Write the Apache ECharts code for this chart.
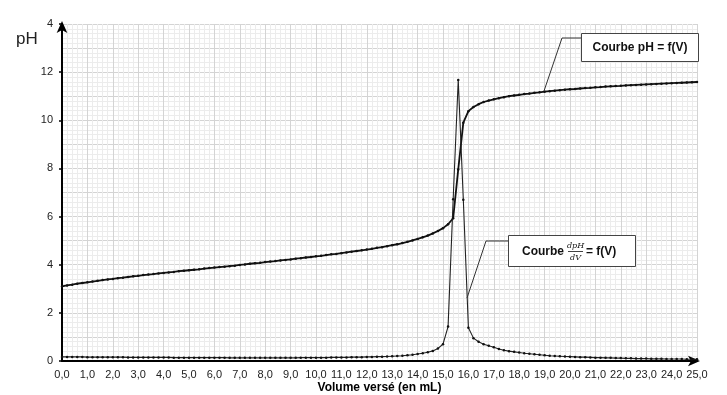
<!DOCTYPE html>
<html><head><meta charset="utf-8">
<script src="https://cdn.jsdelivr.net/npm/echarts@6/dist/echarts.min.js"></script>
<style>html,body{margin:0;padding:0;background:#fff;overflow:hidden}#c{position:absolute;left:0;top:0;width:727px;height:395px}</style>
</head><body><div id="c"></div>
<script>
const volumes = [0,0.2,0.4,0.6,0.8,1,1.2,1.4,1.6,1.8,2,2.2,2.4,2.6,2.8,3,3.2,3.4,3.6,3.8,4,4.2,4.4,4.6,4.8,5,5.2,5.4,5.6,5.8,6,6.2,6.4,6.6,6.8,7,7.2,7.4,7.6,7.8,8,8.2,8.4,8.6,8.8,9,9.2,9.4,9.6,9.8,10,10.2,10.4,10.6,10.8,11,11.2,11.4,11.6,11.8,12,12.2,12.4,12.6,12.8,13,13.2,13.4,13.6,13.8,14,14.2,14.4,14.6,14.8,15,15.2,15.4,15.6,15.8,16,16.2,16.4,16.6,16.8,17,17.2,17.4,17.6,17.8,18,18.2,18.4,18.6,18.8,19,19.2,19.4,19.6,19.8,20,20.2,20.4,20.6,20.8,21,21.2,21.4,21.6,21.8,22,22.2,22.4,22.6,22.8,23,23.2,23.4,23.6,23.8,24,24.2,24.4,24.6,24.8,25];
const pH = [3.10,3.14,3.17,3.21,3.24,3.27,3.30,3.33,3.36,3.39,3.41,
3.44,3.46,3.49,3.52,3.54,3.57,3.59,3.61,3.64,3.66,
3.68,3.70,3.73,3.75,3.77,3.79,3.81,3.84,3.86,3.88,
3.90,3.92,3.94,3.96,3.99,4.01,4.04,4.06,4.08,4.11,
4.13,4.15,4.18,4.20,4.22,4.25,4.27,4.30,4.32,4.35,
4.37,4.40,4.43,4.45,4.48,4.51,4.54,4.57,4.60,4.63,
4.66,4.70,4.73,4.77,4.81,4.85,4.90,4.95,5.01,5.07,
5.14,5.21,5.30,5.40,5.52,5.68,5.93,7.96,9.90,10.38,
10.55,10.67,10.76,10.82,10.87,10.92,10.96,11.00,11.03,11.06,
11.09,11.11,11.14,11.16,11.19,11.21,11.23,11.25,11.27,11.29,
11.30,11.32,11.34,11.35,11.37,11.38,11.40,11.41,11.42,11.43,
11.45,11.46,11.47,11.48,11.49,11.50,11.51,11.52,11.53,11.54,
11.55,11.56,11.57,11.58,11.59];
const dpHdV = [0.17,0.17,0.17,0.17,0.17,0.16,0.16,0.16,0.16,0.16,0.16,
0.16,0.16,0.15,0.15,0.15,0.15,0.15,0.15,0.15,0.15,
0.15,0.14,0.14,0.14,0.14,0.14,0.14,0.14,0.14,0.14,
0.14,0.14,0.13,0.13,0.13,0.13,0.13,0.13,0.13,0.13,
0.13,0.13,0.13,0.13,0.13,0.13,0.14,0.14,0.14,0.14,
0.14,0.14,0.15,0.15,0.15,0.15,0.16,0.16,0.16,0.17,
0.17,0.18,0.18,0.19,0.20,0.21,0.22,0.24,0.26,0.29,
0.32,0.36,0.42,0.52,0.70,1.43,6.72,11.67,6.70,1.38,
0.95,0.80,0.70,0.63,0.57,0.50,0.45,0.41,0.38,0.35,
0.32,0.30,0.28,0.26,0.24,0.22,0.21,0.20,0.19,0.18,
0.17,0.16,0.16,0.15,0.14,0.14,0.13,0.13,0.12,0.12,
0.11,0.11,0.10,0.10,0.10,0.09,0.09,0.09,0.08,0.08,
0.08,0.08,0.07,0.07,0.07];
const xTickLabels = ['0,0','1,0','2,0','3,0','4,0','5,0','6,0','7,0','8,0','9,0','10,0','11,0','12,0','13,0','14,0','15,0','16,0','17,0','18,0','19,0','20,0','21,0','22,0','23,0','24,0','25,0'];
const yTickLabels = {0:'0',2:'2',4:'4',6:'6',8:'8',10:'10',12:'12',14:'4'};
const xTitle = 'Volume versé (en mL)';
const yTitle = 'pH';

const chart = echarts.init(document.getElementById('c'), null, {renderer:'canvas',width:727,height:395});
const font = 'Liberation Sans, Arial, sans-serif';
const pHData = volumes.map((v,i)=>[v,pH[i]]);
const dData = volumes.map((v,i)=>[v,dpHdV[i]]);
chart.setOption({
  animation:false,
  backgroundColor:'#fff',
  grid:{left:62,right:30,top:24,bottom:34,containLabel:false,outerBoundsMode:'none'},
  xAxis:{type:'value',min:0,max:25,interval:1,
    name:xTitle,nameLocation:'middle',nameGap:21,nameMoveOverlap:false,
    nameTextStyle:{fontFamily:font,fontWeight:'bold',fontSize:12,color:'#000'},
    axisLine:{show:true,onZero:false,symbol:['none','arrow'],symbolSize:[8,12],symbolOffset:[0,3],lineStyle:{color:'#000',width:2}},
    axisTick:{show:false},
    axisLabel:{fontFamily:font,fontSize:11,color:'#222',margin:8,formatter:v=>xTickLabels[Math.round(v)]},
    splitLine:{show:true,lineStyle:{color:'#d4d4d4',width:1}},
    minorTick:{show:false,splitNumber:5},
    minorSplitLine:{show:true,lineStyle:{color:'#ececec',width:1}}
  },
  yAxis:[{type:'value',min:0,max:14,interval:1,
    axisLine:{show:true,symbol:['none','arrow'],symbolSize:[8,12],symbolOffset:[0,3],lineStyle:{color:'#000',width:2}},
    axisTick:{show:false},
    axisLabel:{fontFamily:font,fontSize:11,color:'#222',margin:9,formatter:v=>yTickLabels[v]!==undefined?yTickLabels[v]:''},
    splitLine:{show:true,lineStyle:{color:'#d4d4d4',width:1}},
    minorTick:{show:false,splitNumber:5},
    minorSplitLine:{show:true,lineStyle:{color:'#ececec',width:1}}
  },{type:'value',min:0,max:14,interval:2,position:'left',
    axisLine:{show:false},axisLabel:{show:false},splitLine:{show:false},
    axisTick:{show:true,length:3,inside:false,lineStyle:{color:'#000',width:1.5}}
  }],
  series:[
    {type:'line',data:pHData,symbol:'circle',symbolSize:2.5,showSymbol:true,
      lineStyle:{color:'#111',width:1.8},itemStyle:{color:'#111'},z:3},
    {type:'line',data:dData,symbol:'circle',symbolSize:2.5,showSymbol:true,
      lineStyle:{color:'#222',width:1.1},itemStyle:{color:'#111'},z:3}
  ],
  graphic:[
    {type:'text',left:16,top:31,style:{text:yTitle,fontFamily:font,fontSize:17,fill:'#222'}},
    {type:'polyline',shape:{points:[[581,38],[562,38],[544,91]]},style:{stroke:'#333',lineWidth:1,fill:null},z:10},
    {type:'rect',shape:{x:581.5,y:33.5,width:117,height:28},style:{fill:'#fff',stroke:'#444',lineWidth:1},z:10},
    {type:'text',x:640,y:48,style:{text:'Courbe pH = f(V)',fontFamily:font,fontWeight:'bold',fontSize:12,fill:'#111',align:'center',verticalAlign:'middle'},z:11},
    {type:'polyline',shape:{points:[[508,241],[486,241],[467,298]]},style:{stroke:'#333',lineWidth:1,fill:null},z:10},
    {type:'rect',shape:{x:508.5,y:235.5,width:127,height:31},style:{fill:'#fff',stroke:'#444',lineWidth:1},z:10},
    {type:'text',x:522,y:252,style:{text:'Courbe',fontFamily:font,fontWeight:'bold',fontSize:12,fill:'#111',verticalAlign:'middle'},z:11},
    {type:'text',x:575.5,y:246,style:{text:'dpH',fontFamily:'DejaVu Serif, serif',fontStyle:'italic',fontSize:8,fill:'#111',align:'center',verticalAlign:'middle'},z:11},
    {type:'line',shape:{x1:568,y1:251.5,x2:583,y2:251.5},style:{stroke:'#111',lineWidth:0.8},z:11},
    {type:'text',x:575.5,y:258,style:{text:'dV',fontFamily:'DejaVu Serif, serif',fontStyle:'italic',fontSize:8,fill:'#111',align:'center',verticalAlign:'middle'},z:11},
    {type:'text',x:586,y:252,style:{text:'= f(V)',fontFamily:font,fontWeight:'bold',fontSize:12,fill:'#111',verticalAlign:'middle'},z:11}
  ]
});
</script></body></html>
